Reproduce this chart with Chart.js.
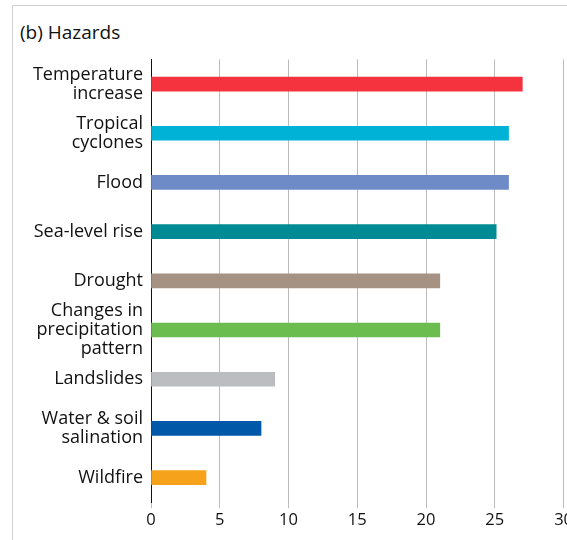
<!DOCTYPE html>
<html><head><meta charset="utf-8">
<script src="https://cdn.jsdelivr.net/npm/chart.js@4"></script>
<style>
html,body{margin:0;padding:0;overflow:hidden;background:#fff;width:567px;height:540px}
#frame{position:absolute;left:12px;top:5px;width:600px;height:600px;border:1px solid #d0d0d0}
#title{position:absolute;left:20px;top:19px;font:19px "Open Sans",sans-serif;color:#111}
#wrap{position:absolute;left:0;top:42px;width:575px;height:490px}
</style></head><body>
<div id="frame"></div>
<div id="title">(b) Hazards</div>
<div id="wrap"><canvas id="c"></canvas></div>
<script>
const categories=[["Temperature","increase"],["Tropical","cyclones"],["Flood"],["Sea-level rise"],["Drought"],["Changes in","precipitation","pattern"],["Landslides"],["Water & soil","salination"],["Wildfire"]];
const values=[27,26,26,25.1,21,21,9,8,4];
const colors=["#f5333f","#00b2d6","#6f8bc7","#008b94","#a69282","#6cbd4f","#bcbdc0","#0058a8","#f7a21b"];
const xTicks=[0,5,10,15,20,25,30];
new Chart(document.getElementById('c'),{
type:'bar',
data:{labels:categories,datasets:[{data:values,backgroundColor:colors,barThickness:14}]},
options:{indexAxis:'y',responsive:true,maintainAspectRatio:false,animation:false,
layout:{padding:{left:0,right:0,top:0,bottom:0}},
plugins:{legend:{display:false},tooltip:{enabled:false}},
scales:{
x:{min:0,max:30,afterBuildTicks:s=>{s.ticks=xTicks.map(v=>({value:v}));},
grid:{color:'#bbbbbb',drawTicks:true,tickLength:6},border:{display:false},
ticks:{color:'#111',font:{family:'Open Sans',size:16.5},padding:2}},
y:{grid:{display:false,drawTicks:false},border:{color:'#111',width:1},
ticks:{autoSkip:false,color:'#111',font:{family:'Open Sans',size:18,lineHeight:1.05},padding:8},
afterFit:s=>{s.width=151;}}
}}});
</script></body></html>
